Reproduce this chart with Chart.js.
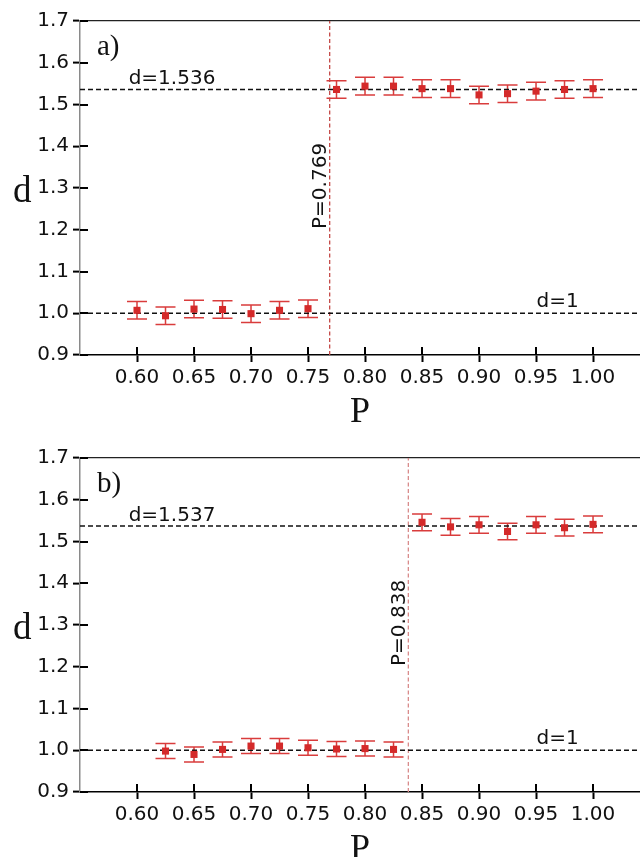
<!DOCTYPE html>
<html>
<head>
<meta charset="utf-8">
<script src="https://cdn.jsdelivr.net/npm/chart.js@4"></script>
<style>
  html, body { margin: 0; padding: 0; background: #fff; overflow: hidden; }
  canvas { position: absolute; left: 0; }
  #chartA { top: 0; }
  #chartB { top: 437px; }
</style>
</head>
<body>
<canvas id="chartA" width="640" height="437"></canvas>
<canvas id="chartB" width="640" height="437"></canvas>
<script>
// tick labels
const tickP = [0.60, 0.65, 0.70, 0.75, 0.80, 0.85, 0.90, 0.95, 1.00];
const tickD = [0.9, 1.0, 1.1, 1.2, 1.3, 1.4, 1.5, 1.6, 1.7];

// panel a)
const aLowP = [0.600, 0.625, 0.650, 0.675, 0.700, 0.725, 0.750];
const aLowD = [1.007, 0.994, 1.010, 1.009, 0.999, 1.007, 1.011];
const aLowErr = [0.021, 0.021, 0.021, 0.021, 0.021, 0.021, 0.021];
const aHighP = [0.775, 0.800, 0.825, 0.850, 0.875, 0.900, 0.925, 0.950, 0.975, 1.000];
const aHighD = [1.536, 1.544, 1.544, 1.538, 1.538, 1.523, 1.526, 1.532, 1.536, 1.538];
const aHighErr = [0.021, 0.021, 0.021, 0.021, 0.021, 0.021, 0.021, 0.021, 0.021, 0.021];
const aPc = 0.769;
const aDfit = 1.536;

// panel b)
const bLowP = [0.625, 0.650, 0.675, 0.700, 0.725, 0.750, 0.775, 0.800, 0.825];
const bLowD = [0.998, 0.990, 1.002, 1.010, 1.010, 1.006, 1.003, 1.004, 1.002];
const bLowErr = [0.018, 0.018, 0.018, 0.018, 0.018, 0.018, 0.018, 0.018, 0.018];
const bHighP = [0.850, 0.875, 0.900, 0.925, 0.950, 0.975, 1.000];
const bHighD = [1.546, 1.535, 1.540, 1.524, 1.540, 1.533, 1.541];
const bHighErr = [0.020, 0.020, 0.020, 0.020, 0.020, 0.020, 0.020];
const bPc = 0.838;
const bDfit = 1.537;

const pMin = 0.55, pMax = 1.0412;
const dMin = 0.9, dMax = 1.7;

const RED = '#d42a2a';
const ERR = '#d93c3c';
const SANS = '"DejaVu Sans", sans-serif';
const SERIF = '"Liberation Serif", "DejaVu Serif", serif';

function pts(xs, ys) {
  return xs.map((x, i) => ({ x: x, y: ys[i] }));
}

// error bars, inner half of the tick marks and the annotations
function makeExtras(cfg) {
  return {
    id: 'extras',
    beforeDatasetsDraw(chart) {
      const ctx = chart.ctx, x = chart.scales.x, y = chart.scales.y;
      ctx.save();
      ctx.strokeStyle = ERR;
      ctx.lineWidth = 1.5;
      cfg.errSets.forEach(s => {
        s.p.forEach((p, i) => {
          const px = x.getPixelForValue(p);
          const y1 = y.getPixelForValue(s.d[i] - s.e[i]);
          const y2 = y.getPixelForValue(s.d[i] + s.e[i]);
          ctx.beginPath();
          ctx.moveTo(px, y1); ctx.lineTo(px, y2);
          ctx.moveTo(px - 10, y1); ctx.lineTo(px + 10, y1);
          ctx.moveTo(px - 10, y2); ctx.lineTo(px + 10, y2);
          ctx.stroke();
        });
      });
      ctx.restore();
    },
    afterDraw(chart) {
      const ctx = chart.ctx, x = chart.scales.x, y = chart.scales.y;
      const area = chart.chartArea;
      ctx.save();
      ctx.strokeStyle = '#000';
      ctx.lineWidth = 2;
      ctx.beginPath();
      x.ticks.forEach(t => {
        const px = Math.round(x.getPixelForValue(t.value));
        ctx.moveTo(px, area.bottom); ctx.lineTo(px, area.bottom - 8);
      });
      y.ticks.forEach(t => {
        const py = Math.round(y.getPixelForValue(t.value));
        ctx.moveTo(area.left, py); ctx.lineTo(area.left + 8, py);
      });
      ctx.stroke();

      ctx.fillStyle = '#111';
      cfg.texts.forEach(t => {
        ctx.save();
        ctx.font = t.font;
        ctx.textAlign = t.align || 'left';
        ctx.textBaseline = t.base || 'alphabetic';
        let px, py;
        if (t.pix) {
          px = area.left + t.pix[0];
          py = area.top + t.pix[1];
        } else {
          px = x.getPixelForValue(t.p) + (t.dx || 0);
          py = y.getPixelForValue(t.d) + (t.dy || 0);
        }
        ctx.translate(px, py);
        if (t.rot) ctx.rotate(t.rot * Math.PI / 180);
        ctx.fillText(t.text, 0, 0);
        ctx.restore();
      });
      ctx.restore();
    }
  };
}

function buildPanel(id, p) {
  const dashLine = (d) => ({
    data: [{ x: pMin, y: d }, { x: pMax, y: d }],
    showLine: true, pointRadius: 0, borderColor: '#111', borderWidth: 1.5,
    borderDash: [5, 3]
  });
  return new Chart(document.getElementById(id), {
    type: 'scatter',
    data: {
      datasets: [
        { data: pts(p.lowP, p.lowD), pointStyle: 'rect', pointRadius: 5,
          backgroundColor: RED, borderColor: RED, borderWidth: 0 },
        { data: pts(p.highP, p.highD), pointStyle: 'rect', pointRadius: 5,
          backgroundColor: RED, borderColor: RED, borderWidth: 0 },
        dashLine(p.dfit),
        dashLine(1.0),
        { data: [{ x: p.pc, y: dMin }, { x: p.pc, y: dMax }],
          showLine: true, pointRadius: 0, borderColor: p.vColor, borderWidth: 1.3,
          borderDash: [4, 2.5] }
      ]
    },
    options: {
      responsive: false,
      animation: false,
      events: [],
      layout: { autoPadding: false, padding: { top: 21, left: 0, right: 0, bottom: 0 } },
      plugins: { legend: { display: false }, tooltip: { enabled: false } },
      scales: {
        x: {
          type: 'linear', min: pMin, max: pMax,
          afterBuildTicks: s => { s.ticks = tickP.map(v => ({ value: v })); },
          afterFit: s => { s.height = 82; s.paddingLeft = 0; s.paddingRight = 0; },
          border: { display: true, color: '#000', width: 1.5 },
          grid: { drawOnChartArea: false, drawTicks: true, tickLength: 7,
                  tickColor: '#000', tickWidth: 2 },
          ticks: { padding: 4, color: '#111', font: { family: SANS, size: 20 },
                   maxRotation: 0, autoSkip: false,
                   callback: v => v.toFixed(2) },
          title: { display: true, text: 'P', color: '#111',
                   font: { family: SERIF, size: 36 },
                   padding: { top: 0, bottom: 3 } }
        },
        y: {
          type: 'linear', min: dMin, max: dMax,
          afterBuildTicks: s => { s.ticks = tickD.map(v => ({ value: v })); },
          afterFit: s => { s.width = 80; },
          border: { display: true, color: '#8a8a8a', width: 1.5 },
          grid: {
            drawOnChartArea: true, drawTicks: true, tickLength: 7,
            tickColor: '#000', tickWidth: 2,
            color: c => (c.tick && Math.abs(c.tick.value - dMax) < 1e-6) ? '#222' : 'rgba(0,0,0,0)',
            lineWidth: 1.2
          },
          ticks: { padding: 4, color: '#111', font: { family: SANS, size: 20 },
                   autoSkip: false, callback: v => v.toFixed(1) }
        }
      }
    },
    plugins: [makeExtras({
      errSets: [
        { p: p.lowP, d: p.lowD, e: p.lowErr },
        { p: p.highP, d: p.highD, e: p.highErr }
      ],
      texts: [
        { text: p.label, pix: [17, 34], font: '29px ' + SERIF },
        { text: 'd', pix: [-67, 181], font: '37px ' + SERIF },
        { text: 'd=' + p.dfit.toFixed(3), p: 0.6307, d: p.dfit, dy: -5,
          align: 'center', font: '20px ' + SANS },
        { text: 'd=1', p: 0.969, d: 1.0, dy: -6, align: 'center', font: '20px ' + SANS },
        { text: 'P=' + p.pc.toFixed(3), p: p.pc, dx: -9, d: 1.305, rot: -90,
          align: 'center', base: 'middle', font: '20px ' + SANS }
      ]
    })]
  });
}

buildPanel('chartA', {
  lowP: aLowP, lowD: aLowD, lowErr: aLowErr,
  highP: aHighP, highD: aHighD, highErr: aHighErr,
  pc: aPc, dfit: aDfit, label: 'a)', vColor: '#c44a48'
});

buildPanel('chartB', {
  lowP: bLowP, lowD: bLowD, lowErr: bLowErr,
  highP: bHighP, highD: bHighD, highErr: bHighErr,
  pc: bPc, dfit: bDfit, label: 'b)', vColor: '#d98c8c'
});
</script>
</body>
</html>
